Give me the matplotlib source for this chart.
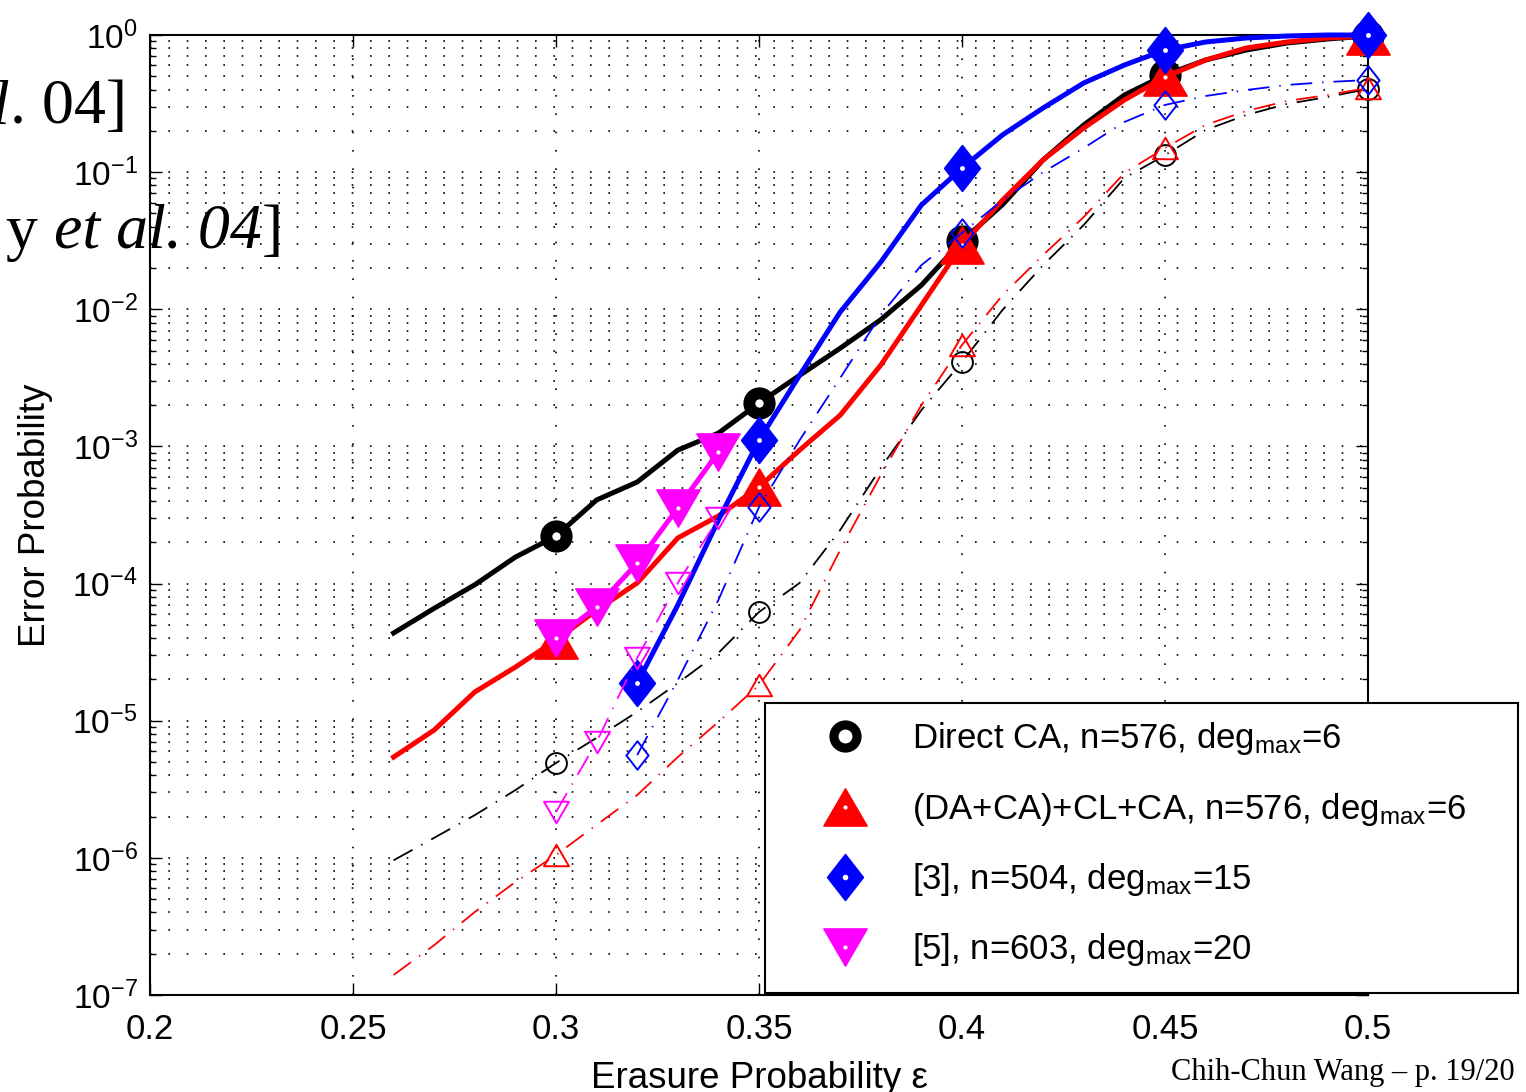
import numpy as np
import matplotlib
matplotlib.use("Agg")
import matplotlib.pyplot as plt
from matplotlib.lines import Line2D
from matplotlib.path import Path
from matplotlib.patches import Rectangle
from matplotlib.legend_handler import HandlerTuple
from matplotlib.offsetbox import TextArea, HPacker, AnnotationBbox
from matplotlib.ticker import LogLocator, FixedLocator, NullFormatter

plt.rcParams['font.family'] = ['Liberation Sans', 'DejaVu Sans']
plt.rcParams['mathtext.default'] = 'regular'

# ---------------- data ----------------
eps_all = [0.26, 0.27, 0.28, 0.29, 0.30, 0.31, 0.32, 0.33, 0.34, 0.35, 0.36, 0.37, 0.38,
           0.39, 0.40, 0.41, 0.42, 0.43, 0.44, 0.45, 0.46, 0.47, 0.48, 0.49, 0.50]
eps_ref3 = [0.32, 0.33, 0.34, 0.35, 0.36, 0.37, 0.38, 0.39, 0.40, 0.41, 0.42,
            0.43, 0.44, 0.45, 0.46, 0.47, 0.48, 0.49, 0.50]
eps_ref5 = [0.30, 0.31, 0.32, 0.33, 0.34]

direct_ca_solid = [4.36e-5, 6.6e-5, 9.8e-5, 1.56e-4, 2.22e-4, 4.07e-4, 5.5e-4, 9.4e-4, 1.25e-3,
                   2.07e-3, 3.3e-3, 5.2e-3, 8.4e-3, 1.5e-2, 3.15e-2, 5.8e-2, 0.123, 0.221,
                   0.365, 0.511, 0.657, 0.777, 0.874, 0.935, 0.983]
dacl_solid = [5.43e-6, 8.55e-6, 1.62e-5, 2.46e-5, 3.87e-5, 6.4e-5, 1.01e-4, 2.15e-4, 3.11e-4,
              5.06e-4, 9.4e-4, 1.69e-3, 3.92e-3, 1.07e-2, 2.94e-2, 6.26e-2, 0.123, 0.21,
              0.336, 0.494, 0.657, 0.804, 0.889, 0.951, 0.983]
ref3_solid = [1.88e-5, 6.98e-5, 2.9e-4, 1.11e-3, 3.3e-3, 9.55e-3, 2.21e-2, 5.76e-2, 0.107,
              0.187, 0.294, 0.447, 0.604, 0.777, 0.889, 0.951, 0.983, 1.0, 1.0]
ref5_solid = [4.0e-5, 6.75e-5, 1.41e-4, 3.56e-4, 9.1e-4]

direct_ca_dashed = [9.6e-7, 1.4e-6, 2.05e-6, 3.12e-6, 4.92e-6, 7.5e-6, 1.16e-5, 1.88e-5, 3.12e-5,
                    6.2e-5, 1.01e-4, 2.46e-4, 6.96e-4, 1.84e-3, 4.13e-3, 9.9e-3, 2.1e-2, 4.12e-2,
                    9.06e-2, 0.133, 0.203, 0.261, 0.314, 0.353, 0.404]
dacl_dashed = [1.4e-7, 2.31e-7, 4.03e-7, 6.67e-7, 1.05e-6, 1.74e-6, 2.87e-6, 5.43e-6, 9.8e-6,
               1.82e-5, 4.58e-5, 1.76e-4, 6.19e-4, 2.0e-3, 5.49e-3, 1.27e-2, 2.49e-2, 4.71e-2,
               9.86e-2, 0.15, 0.221, 0.279, 0.33, 0.365, 0.411]
ref3_dashed = [5.62e-6, 1.98e-5, 7.59e-5, 3.61e-4, 1.11e-3, 3.15e-3, 9.1e-3, 2.1e-2, 3.6e-2,
               6.26e-2, 0.1, 0.15, 0.232, 0.309, 0.359, 0.397, 0.432, 0.454, 0.47]
ref5_dashed = [2.16e-6, 7.0e-6, 2.87e-5, 1.01e-4, 3.0e-4]

marks_ca = [0.30, 0.35, 0.40, 0.45, 0.50]
marks_ref3 = [0.32, 0.35, 0.40, 0.45, 0.50]
marks_ref5 = [0.30, 0.31, 0.32, 0.33, 0.34]

labels = [r"Direct CA, n=576, deg$_{\mathregular{max}}$=6",
          r"(DA+CA)+CL+CA, n=576, deg$_{\mathregular{max}}$=6",
          r"[3], n=504, deg$_{\mathregular{max}}$=15",
          r"[5], n=603, deg$_{\mathregular{max}}$=20"]
xticks = [0.2, 0.25, 0.3, 0.35, 0.4, 0.45, 0.5]
xticklabels = ["0.2", "0.25", "0.3", "0.35", "0.4", "0.45", "0.5"]

# ---------------- styles ----------------
W, H = 1526, 1092
tri_up = Path([(-1, -0.86), (1, -0.86), (0, 0.86), (-1, -0.86)],
              [Path.MOVETO, Path.LINETO, Path.LINETO, Path.CLOSEPOLY])
tri_dn = Path([(-1, 0.86), (1, 0.86), (0, -0.86), (-1, 0.86)],
              [Path.MOVETO, Path.LINETO, Path.LINETO, Path.CLOSEPOLY])
diam = Path([(0, 1), (0.78, 0), (0, -1), (-0.78, 0), (0, 1)],
            [Path.MOVETO, Path.LINETO, Path.LINETO, Path.LINETO, Path.CLOSEPOLY])

colors = ['black', 'red', 'blue', 'magenta']
mk = ['o', tri_up, diam, tri_dn]
msz_filled = [22, 31, 33, 31]
msz_open = [15, 18, 20.5, 18]
dot_plot = [6, 3, 3.5, 3]
dash = (0, (12, 5.5, 0.8, 5.5))

fig = plt.figure(figsize=(W / 100, H / 100), dpi=100)
ax = fig.add_axes([150 / W, 1 - 995 / H, 1218 / W, 960 / H])


def idx(xs, marks):
    return [int(np.argmin(np.abs(np.asarray(xs) - m))) for m in marks]


series_solid = [(eps_all, direct_ca_solid, marks_ca), (eps_all, dacl_solid, marks_ca),
                (eps_ref3, ref3_solid, marks_ref3), (eps_ref5, ref5_solid, marks_ref5)]
series_dashed = [(eps_all, direct_ca_dashed, marks_ca), (eps_all, dacl_dashed, marks_ca),
                 (eps_ref3, ref3_dashed, marks_ref3), (eps_ref5, ref5_dashed, marks_ref5)]

z = 3
for i, (xs, ys, marks) in enumerate(series_solid):
    ev = idx(xs, marks)
    ax.plot(xs, ys, color=colors[i], lw=3.6, marker=mk[i], markevery=ev,
            markersize=msz_filled[i], markerfacecolor=colors[i], markeredgecolor=colors[i],
            markeredgewidth=1.2, zorder=z, clip_on=False)
    ax.plot(np.asarray(xs)[ev], np.asarray(ys)[ev], linestyle='none', marker='o',
            markersize=dot_plot[i], markerfacecolor='white', markeredgecolor='white',
            markeredgewidth=0, zorder=z + 0.1, clip_on=False)
    z += 0.2

for i, (xs, ys, marks) in enumerate(series_dashed):
    ev = idx(xs, marks)
    ax.plot(xs, ys, color=colors[i], lw=1.3, linestyle=dash, marker=mk[i], markevery=ev,
            markersize=msz_open[i], markerfacecolor='none', markeredgecolor=colors[i],
            markeredgewidth=1.4, zorder=z, clip_on=False)
    z += 0.2

ax.set_yscale('log')
ax.set_xlim(0.2, 0.5)
ax.set_ylim(1e-7, 1)
ax.xaxis.set_major_locator(FixedLocator(xticks))
ax.set_xticklabels(xticklabels)
ax.yaxis.set_major_locator(LogLocator(base=10, numticks=20))
ax.yaxis.set_minor_locator(LogLocator(base=10, subs=np.arange(2, 10), numticks=100))
ax.yaxis.set_minor_formatter(NullFormatter())

ax.tick_params(which='both', direction='in', top=True, right=True, width=1.0)
ax.tick_params(which='major', length=8.5)
ax.tick_params(which='minor', length=4)
ax.tick_params(axis='x', labelsize=25, pad=13)
ax.tick_params(axis='y', labelsize=24, pad=9)
for s in ax.spines.values():
    s.set_linewidth(1.5)

grid_ls = (0, (1, 10))
ax.set_axisbelow(True)
ax.grid(True, axis='y', which='both', color='black', linestyle=grid_ls, linewidth=1.2)
ax.grid(True, axis='x', which='major', color='black', linestyle=grid_ls, linewidth=1.2)

ax.set_xlabel("Erasure Probability ε", fontsize=26.5)
ax.xaxis.set_label_coords(0.5, -0.069)
ax.xaxis.label.set_va('top')
ax.set_ylabel("Error Probability", fontsize=26.5)
ax.yaxis.set_label_coords(-0.08, 0.5)

# legend (frame drawn as a separate box to match the reference exactly)
handles = []
dot_leg = [10, 3, 4, 3]
for i in range(4):
    h1 = Line2D([], [], linestyle='none', marker=mk[i], markersize=msz_filled[i],
                markerfacecolor=colors[i], markeredgecolor=colors[i], markeredgewidth=1.2)
    h2 = Line2D([], [], linestyle='none', marker='o', markersize=dot_leg[i],
                markerfacecolor='white', markeredgecolor='white', markeredgewidth=0)
    handles.append((h1, h2))

fs_leg = 25
fs_px = fs_leg * 100 / 72
leg = ax.legend(handles, labels, handler_map={tuple: HandlerTuple(ndivide=1, pad=0)},
                loc='upper left', bbox_to_anchor=(765 / W, 1 - 703 / H, 753 / W, 0),
                bbox_transform=fig.transFigure, mode='expand', borderaxespad=0,
                fontsize=fs_leg, numpoints=1, frameon=False,
                borderpad=0.5, handlelength=(80 - 0.5 * fs_px) * 2 / fs_px,
                handletextpad=0.14, labelspacing=0.96)
leg.set_zorder(20)
box = Rectangle((765 / W, 1 - 993 / H), 753 / W, 290 / H, transform=fig.transFigure,
                facecolor='white', edgecolor='black', linewidth=1.5, zorder=19,
                clip_on=False)
ax.add_artist(box)


# overlaid slide text fragments
def serif_pieces(pieces, x_right, y_bottom, size=46):
    children = [TextArea(s, textprops=dict(family='Liberation Serif', size=size, style=st,
                                           color='black')) for s, st in pieces]
    pack = HPacker(children=children, align='baseline', pad=0, sep=0)
    ab = AnnotationBbox(pack, (x_right / W, 1 - y_bottom / H), xycoords='figure fraction',
                        box_alignment=(1.0, 0.0), frameon=False, pad=0,
                        annotation_clip=False)
    ab.set_zorder(30)
    fig.add_artist(ab)


serif_pieces([("al", 'italic'), (". 04]", 'normal')], 127, 137)
serif_pieces([("y ", 'normal'), ("et al. 04", 'italic'), ("]", 'normal')], 283, 262)

fig.text(1515 / W, 1 - 1080 / H, "Chih-Chun Wang – p. 19/20", family='Liberation Serif',
         fontsize=22, ha='right', va='baseline')

fig.savefig("out.png", dpi=100)
